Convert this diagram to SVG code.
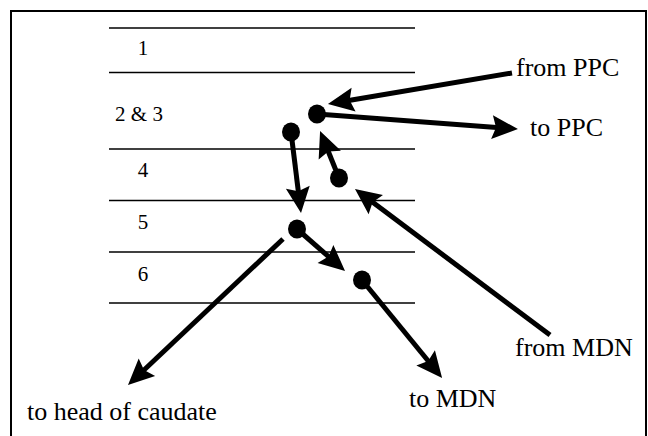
<svg xmlns="http://www.w3.org/2000/svg" width="648" height="436" viewBox="0 0 648 436">
  <style>
    .frame { fill: none; stroke: #000; stroke-width: 2; }
    .layer { stroke: #000; stroke-width: 1.6; }
    .num { font-family: 'Liberation Serif', 'DejaVu Serif', 'Times New Roman', Times, serif; font-size: 21px; fill: #000; text-anchor: middle; }
    .lbl { font-family: 'Liberation Serif', 'DejaVu Serif', 'Times New Roman', Times, serif; font-size: 26px; fill: #000; }
    .arrow { fill: none; stroke: #000; stroke-width: 5; stroke-linecap: butt; marker-end: url(#head); }
    .cell { fill: #000; }
  </style>
  <defs>
    <marker id="head" markerUnits="userSpaceOnUse" markerWidth="26" markerHeight="24" refX="8" refY="12" orient="auto" overflow="visible">
      <path d="M0,0 L26,12 L0,24 L4,12 z" fill="#000"/>
    </marker>
  </defs>

  <rect class="frame" x="11" y="11" width="635" height="440"/>

  <!-- cortical layer boundaries -->
  <g id="layers">
    <line class="layer" x1="109" y1="28" x2="415" y2="28"/>
    <line class="layer" x1="109" y1="72.5" x2="415" y2="72.5"/>
    <line class="layer" x1="109" y1="149" x2="415" y2="149"/>
    <line class="layer" x1="109" y1="200.5" x2="415" y2="200.5"/>
    <line class="layer" x1="109" y1="252" x2="415" y2="252"/>
    <line class="layer" x1="109" y1="303" x2="415" y2="303"/>
    <text class="num" x="143" y="55">1</text>
    <text class="num" x="139" y="121">2 &amp; 3</text>
    <text class="num" x="143" y="177">4</text>
    <text class="num" x="143" y="229">5</text>
    <text class="num" x="143" y="281">6</text>
  </g>

  <!-- cells -->
  <g id="cell-23a"><ellipse class="cell" cx="317" cy="114" rx="9" ry="9.5"/></g>
  <g id="cell-23b"><ellipse class="cell" cx="291" cy="132" rx="9" ry="9.5"/></g>
  <g id="cell-4"><ellipse class="cell" cx="339" cy="178" rx="9" ry="9.5"/></g>
  <g id="cell-5"><ellipse class="cell" cx="297" cy="229" rx="9" ry="9.5"/></g>
  <g id="cell-6"><ellipse class="cell" cx="362" cy="280" rx="9" ry="9.5"/></g>

  <!-- projections: each line stops 18px short of the arrow tip -->
  <g id="connectors">
    <line class="arrow" x1="512" y1="73" x2="345.7" y2="101"/>
    <line class="arrow" x1="317" y1="114" x2="500" y2="127.7"/>
    <line class="arrow" x1="291" y1="132" x2="298.8" y2="195.1"/>
    <line class="arrow" x1="339" y1="178" x2="326.8" y2="147.7"/>
    <line class="arrow" x1="550" y1="335" x2="369.4" y2="199.8"/>
    <line class="arrow" x1="297" y1="229" x2="331.5" y2="259.2"/>
    <line class="arrow" x1="362" y1="280" x2="430.7" y2="364"/>
    <line class="arrow" x1="283" y1="239" x2="141.1" y2="372.7"/>
  </g>

  <!-- targets and sources -->
  <g id="from-ppc"><text class="lbl" x="516" y="76">from PPC</text></g>
  <g id="to-ppc"><text class="lbl" x="530" y="136">to PPC</text></g>
  <g id="from-mdn"><text class="lbl" x="515" y="356">from MDN</text></g>
  <g id="to-mdn"><text class="lbl" x="409" y="407">to MDN</text></g>
  <g id="to-caudate"><text class="lbl" x="27" y="420">to head of caudate</text></g>
</svg>
